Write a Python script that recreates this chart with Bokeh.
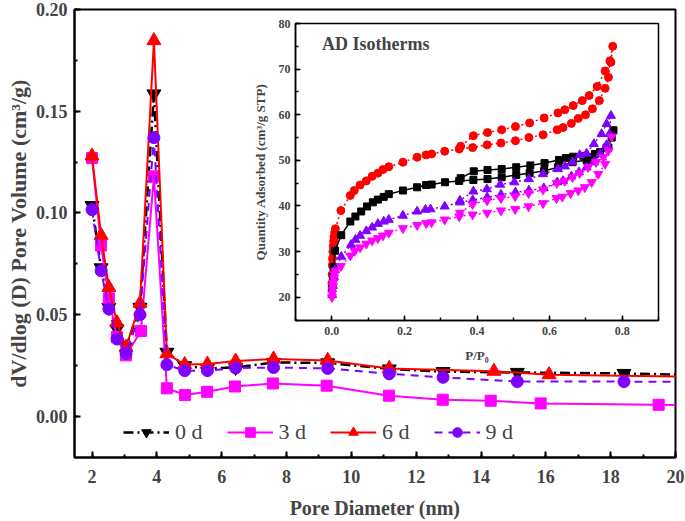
from bokeh.plotting import figure
from bokeh.models import SingleIntervalTicker, PrintfTickFormatter, Label
from bokeh.layouts import column
from bokeh.embed import file_html
from bokeh.resources import INLINE

FONT = "Liberation Serif"

# ---------------- main chart data (pore size distribution) ----------------
d0_x = [2.0, 2.28, 2.52, 2.77, 3.05, 3.48, 3.91, 4.31, 4.86, 5.56, 6.43, 7.6, 9.27, 11.17, 12.83, 15.12, 18.41, 22.0]
d0_y = [0.1036, 0.073, 0.0536, 0.043, 0.034, 0.0536, 0.1585, 0.0315, 0.0249, 0.0235, 0.0241, 0.0265, 0.0263, 0.0233, 0.0220, 0.0216, 0.0211, 0.0199]

d3_x = [2.0, 2.28, 2.52, 2.77, 3.05, 3.51, 3.91, 4.31, 4.87, 5.55, 6.41, 7.58, 9.24, 11.16, 12.82, 14.30, 15.84, 19.48, 22.0]
d3_y = [0.127, 0.084, 0.058, 0.039, 0.030, 0.042, 0.118, 0.0138, 0.0105, 0.0121, 0.0147, 0.0162, 0.0151, 0.0102, 0.0082, 0.0077, 0.0064, 0.0057, 0.0055]

d6_x = [2.0, 2.28, 2.52, 2.77, 3.05, 3.48, 3.91, 4.31, 4.86, 5.56, 6.43, 7.6, 9.27, 11.17, 14.4, 16.1, 22.0]
d6_y = [0.128, 0.089, 0.0634, 0.046, 0.034, 0.0556, 0.1847, 0.0308, 0.0255, 0.0257, 0.0272, 0.0282, 0.0275, 0.0236, 0.0222, 0.0205, 0.0192]

d9_x = [2.0, 2.28, 2.52, 2.77, 3.05, 3.48, 3.91, 4.31, 4.86, 5.56, 6.43, 7.6, 9.27, 11.17, 12.83, 15.12, 18.41, 22.0]
d9_y = [0.1016, 0.0716, 0.0528, 0.038, 0.031, 0.050, 0.137, 0.0254, 0.0225, 0.0225, 0.0238, 0.0240, 0.0236, 0.0209, 0.0192, 0.0171, 0.0171, 0.0170]

x_ticks_interval = 2
y_ticks_interval = 0.05

# ---------------- inset data (adsorption / desorption isotherms) ----------------
red_p = [0.0005, 0.001, 0.0015, 0.002, 0.003, 0.004, 0.005, 0.006, 0.008, 0.010,
         0.025, 0.051, 0.062, 0.078, 0.095, 0.111, 0.127, 0.141, 0.157, 0.196, 0.235, 0.260, 0.275,
         0.311, 0.351, 0.388, 0.428, 0.466, 0.506, 0.543, 0.582, 0.621, 0.637, 0.660, 0.679, 0.699,
         0.718, 0.737, 0.753, 0.762, 0.766, 0.774,
         0.769, 0.753, 0.731, 0.709, 0.690, 0.665, 0.642, 0.623, 0.585, 0.545, 0.506, 0.468, 0.429,
         0.390, 0.355]
red_q = [23.0, 25.0, 27.0, 28.5, 30.0, 31.2, 32.3, 33.2, 34.2, 35.0,
         39.0, 42.3, 43.4, 44.6, 45.5, 46.5, 47.2, 48.0, 48.6, 49.6, 50.7, 51.2, 51.4,
         52.0, 52.5, 52.8, 53.4, 53.8, 54.3, 55.0, 55.6, 56.7, 57.2, 58.1, 59.2, 60.0,
         61.3, 63.1, 65.8, 68.2, 71.8, 75.0,
         71.5, 69.6, 66.2, 64.2, 63.1, 62.0, 61.1, 60.4, 59.3, 58.2, 57.4, 56.7, 56.1,
         55.4, 53.1]

blk_p = [0.001, 0.003, 0.005, 0.009, 0.026, 0.051, 0.065, 0.081, 0.097, 0.113, 0.127, 0.143, 0.157,
         0.196, 0.235, 0.260, 0.275, 0.312, 0.351, 0.390, 0.429, 0.468, 0.508, 0.545, 0.585, 0.623,
         0.663, 0.702, 0.716, 0.739, 0.757, 0.771, 0.776,
         0.762, 0.725, 0.693, 0.665, 0.645, 0.626, 0.586, 0.547, 0.508, 0.468, 0.429, 0.391, 0.355]
blk_q = [22.0, 24.5, 26.6, 30.2, 33.6, 36.6, 37.7, 38.8, 39.9, 40.8, 41.4, 42.0, 42.6,
         43.4, 44.1, 44.6, 44.7, 45.2, 45.5, 45.7, 45.9, 46.3, 46.8, 47.2, 47.7, 48.5,
         49.6, 50.1, 50.7, 51.8, 52.8, 55.0, 56.6,
         52.8, 51.4, 51.0, 50.8, 50.5, 50.1, 49.4, 48.9, 48.5, 48.1, 47.9, 47.6, 46.1]

pur_p = [0.001, 0.003, 0.006, 0.009, 0.026, 0.053, 0.065, 0.078, 0.095, 0.111, 0.127, 0.143, 0.157,
         0.196, 0.235, 0.258, 0.272, 0.311, 0.353, 0.388, 0.428, 0.466, 0.506, 0.543, 0.584, 0.621,
         0.637, 0.660, 0.681, 0.702, 0.722, 0.739, 0.757, 0.765, 0.769,
         0.757, 0.743, 0.722, 0.702, 0.683, 0.663, 0.642, 0.623, 0.582, 0.543, 0.503, 0.464, 0.427,
         0.390, 0.353]
pur_q = [20.5, 22.5, 24.5, 26.0, 28.9, 31.5, 32.6, 33.5, 34.5, 35.3, 36.1, 36.6, 37.0,
         37.9, 38.8, 39.2, 39.3, 39.9, 40.8, 41.3, 41.9, 42.5, 43.0, 43.4, 43.9, 45.2,
         45.5, 46.5, 47.4, 48.5, 49.6, 51.4, 53.4, 55.8, 59.8,
         58.0, 55.8, 53.6, 51.5, 51.2, 49.6, 48.7, 48.1, 47.0, 45.9, 45.2, 44.7, 43.7,
         43.2, 41.2]

mag_p = [0.0005, 0.001, 0.002, 0.003, 0.004, 0.006, 0.008, 0.010, 0.025, 0.051, 0.063, 0.078, 0.095,
         0.111, 0.127, 0.141, 0.157, 0.196, 0.235, 0.260, 0.275, 0.311, 0.351, 0.388, 0.428, 0.466,
         0.505, 0.542, 0.582, 0.619, 0.635, 0.658, 0.679, 0.697, 0.716, 0.734, 0.753, 0.762, 0.771,
         0.748, 0.728, 0.706, 0.683, 0.663, 0.642, 0.620, 0.582, 0.542, 0.505, 0.466, 0.428,
         0.388, 0.353]
mag_q = [20.0, 20.8, 21.6, 22.4, 23.2, 24.2, 25.0, 25.8, 26.8, 29.1, 30.1, 30.9, 31.7,
         32.4, 32.9, 33.5, 34.1, 35.1, 35.8, 36.2, 36.4, 37.0, 37.7, 38.1, 38.5, 39.0,
         39.3, 39.9, 40.6, 41.7, 42.0, 42.8, 43.4, 44.1, 45.2, 47.0, 49.2, 52.1, 55.2,
         50.7, 49.6, 48.5, 47.2, 46.3, 45.5, 45.0, 43.6, 42.8, 42.1, 41.7, 41.2,
         40.4, 38.5]

BLACK = "#000000"
MAGENTA = "#FF00FF"
RED = "#FF0000"
PURPLE = "#8000FF"

# ---------------- main figure ----------------
p = figure(width=685, height=521, x_range=(1.46, 20.0), y_range=(-0.0202, 0.20),
           output_backend="svg", toolbar_location=None,
           min_border_left=74, min_border_right=9, min_border_top=9, min_border_bottom=64)
p.background_fill_color = "white"
p.border_fill_color = "white"
p.outline_line_color = "black"
p.outline_line_width = 2
p.xgrid.visible = False
p.ygrid.visible = False

for ax in (p.xaxis[0], p.yaxis[0]):
    ax.axis_line_width = 2
    ax.major_tick_line_width = 2
    ax.minor_tick_line_width = 2
    ax.major_tick_in = 6
    ax.major_tick_out = 0
    ax.minor_tick_in = 3
    ax.minor_tick_out = 0
    ax.major_label_text_font = FONT
    ax.major_label_text_font_style = "bold"
    ax.major_label_text_font_size = "18px"
    ax.axis_label_text_font = FONT
    ax.axis_label_text_font_style = "bold"

p.xaxis.axis_label_text_font_size = "20px"
p.yaxis.axis_label_text_font_size = "22px"
p.xaxis.ticker = SingleIntervalTicker(interval=x_ticks_interval, num_minor_ticks=2)
p.yaxis.ticker = SingleIntervalTicker(interval=y_ticks_interval, num_minor_ticks=2)
p.yaxis.formatter = PrintfTickFormatter(format="%.2f")
p.xaxis.axis_label = "Pore Diameter (nm)"
p.yaxis.axis_label = "dV/dlog (D) Pore Volume (cm\u00b3/g)"
p.xaxis.major_label_standoff = 12
p.xaxis.axis_label_standoff = 11
p.yaxis.major_label_standoff = 7
p.yaxis.axis_label_standoff = 2

p.line(d0_x, d0_y, line_color=BLACK, line_width=2.5, line_dash="10 4 2 4", legend_label="0 d")
p.scatter(d0_x, d0_y, marker="inverted_triangle", size=14, fill_color=BLACK, line_color=BLACK, legend_label="0 d")

p.line(d3_x, d3_y, line_color=MAGENTA, line_width=2, legend_label="3 d")
p.scatter(d3_x, d3_y, marker="square", size=11, fill_color=MAGENTA, line_color=MAGENTA, legend_label="3 d")

p.line(d6_x, d6_y, line_color=RED, line_width=2, legend_label="6 d")
p.scatter(d6_x, d6_y, marker="triangle", size=14, fill_color=RED, line_color=RED, legend_label="6 d")

p.line(d9_x, d9_y, line_color=PURPLE, line_width=2, line_dash="8 6", legend_label="9 d")
p.scatter(d9_x, d9_y, marker="circle", size=12, fill_color=PURPLE, line_color=PURPLE, legend_label="9 d")

lg = p.legend[0]
lg.orientation = "horizontal"
lg.location = (49, 12)
lg.background_fill_alpha = 0
lg.border_line_alpha = 0
lg.padding = 0
lg.margin = 0
lg.spacing = 24
lg.glyph_width = 46
lg.glyph_height = 24
lg.label_standoff = 6
lg.label_text_font = FONT
lg.label_text_font_size = "22px"

# ---------------- inset figure ----------------
ins = figure(width=447, height=355, x_range=(-0.1, 0.9), y_range=(14.9, 80),
             output_backend="svg", toolbar_location=None,
             min_border_left=70, min_border_right=10, min_border_top=10, min_border_bottom=48)
ins.background_fill_color = "white"
ins.border_fill_color = None
ins.outline_line_color = "black"
ins.outline_line_width = 1.5
ins.xgrid.visible = False
ins.ygrid.visible = False
for ax in (ins.xaxis[0], ins.yaxis[0]):
    ax.axis_line_width = 1.5
    ax.major_tick_line_width = 1.5
    ax.minor_tick_line_width = 1.5
    ax.major_tick_in = 5
    ax.major_tick_out = 0
    ax.minor_tick_in = 3
    ax.minor_tick_out = 0
    ax.major_label_text_font = FONT
    ax.major_label_text_font_style = "bold"
    ax.major_label_text_font_size = "12px"
    ax.axis_label_text_font = FONT
    ax.axis_label_text_font_style = "bold"
    ax.axis_label_text_font_size = "13px"
ins.xaxis.ticker = SingleIntervalTicker(interval=0.2, num_minor_ticks=2)
ins.yaxis.ticker = SingleIntervalTicker(interval=10, num_minor_ticks=2)
ins.xaxis.formatter = PrintfTickFormatter(format="%.1f")
ins.xaxis.axis_label = "P/P\u2080"
ins.yaxis.axis_label = "Quantity Adsorbed (cm\u00b3/g STP)"
ins.xaxis.major_label_standoff = 6
ins.xaxis.axis_label_standoff = 10
ins.yaxis.major_label_standoff = 5
ins.yaxis.axis_label_standoff = 8

ins.line(red_p, red_q, line_color=RED, line_width=1.5, line_dash="2 3")
ins.scatter(red_p, red_q, marker="circle", size=8, fill_color=RED, line_color=RED)
ins.line(blk_p, blk_q, line_color=BLACK, line_width=1.5)
ins.scatter(blk_p, blk_q, marker="square", size=7, fill_color=BLACK, line_color=BLACK)
ins.line(pur_p, pur_q, line_color=PURPLE, line_width=1.5, line_dash="2 3")
ins.scatter(pur_p, pur_q, marker="triangle", size=9, fill_color=PURPLE, line_color=PURPLE)
ins.line(mag_p, mag_q, line_color=MAGENTA, line_width=1.5, line_dash="2 3")
ins.scatter(mag_p, mag_q, marker="inverted_triangle", size=9, fill_color=MAGENTA, line_color=MAGENTA)

ins.add_layout(Label(x=-0.027, y=75.5, text="AD Isotherms", text_font=FONT, text_font_style="bold",
                     text_font_size="18px", text_baseline="middle", text_align="left"))

ins.styles = {"position": "absolute", "left": "221px", "top": "13px"}

layout = column(p, ins, styles={"position": "relative"})

open("out.html", "w").write(file_html(layout, INLINE))
